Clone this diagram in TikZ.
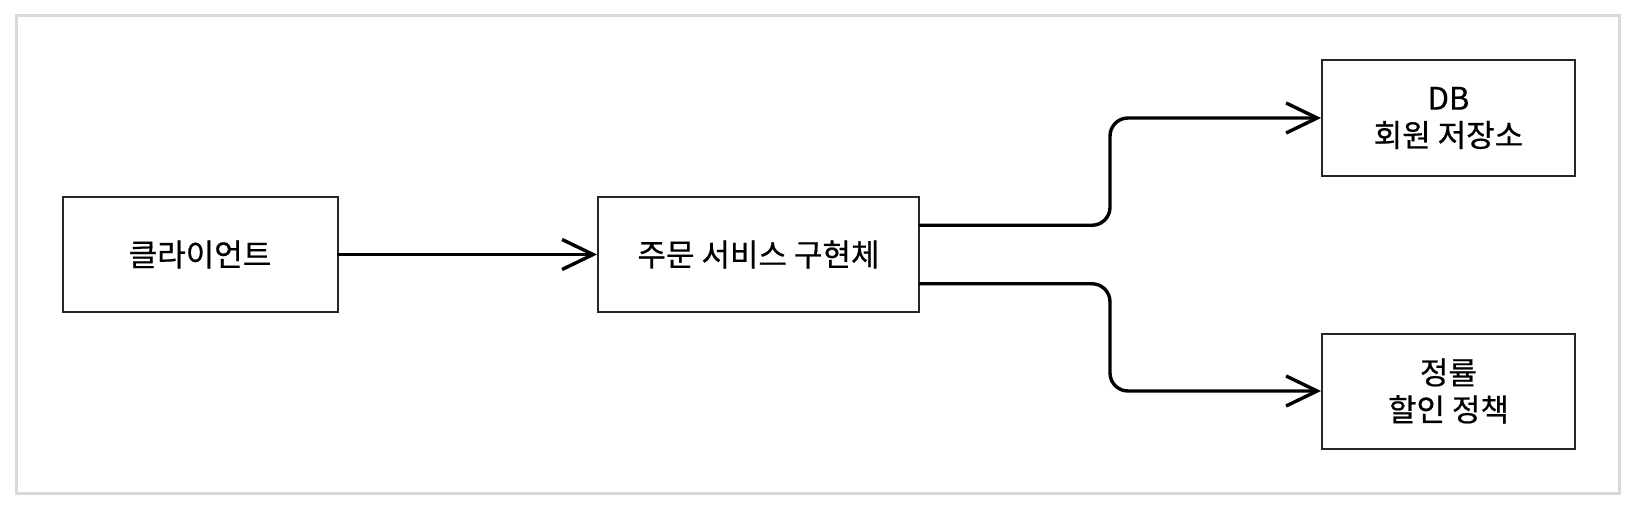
\documentclass[tikz,border=0pt]{standalone}
\usepackage{fontspec}
\newfontfamily\kr[FakeBold=0.6]{Noto Sans CJK KR}
\usetikzlibrary{arrows.meta,calc}
\tikzset{
  box/.style={draw=black!85, line width=2pt, rectangle, minimum width=#1, minimum height=115pt, inner sep=0pt, align=center, font=\kr\fontsize{31}{37}\selectfont},
  conn/.style={line width=3.4pt, line cap=round, rounded corners=18pt, -{Straight Barb[length=31pt,width=30pt,line width=3.4pt]}},
}
\begin{document}
\begin{tikzpicture}[x=1pt,y=-1pt]
\useasboundingbox (0,0) rectangle (1632,524);
\draw[line width=3pt, draw=black!15] (16.5,16) rectangle (1619,493);
\node[box=275pt] (client) at (200,254.5) {클라이언트};
\node[box=321pt] (order) at (758.5,254.5) {주문 서비스 구현체};
\node[box=253pt] (db) at (1448.5,118) {DB\\회원 저장소};
\node[box=253pt] (policy) at (1448.5,391) {정률\\할인 정책};
\coordinate (o1) at ($(order.north east)!0.25!(order.south east)$);
\coordinate (o2) at ($(order.north east)!0.75!(order.south east)$);
\draw[conn] (client.east) -- (order.west);
\draw[conn] (o1) -- ++(190,0) |- (db.west);
\draw[conn] (o2) -- ++(190,0) |- (policy.west);
\end{tikzpicture}
\end{document}
